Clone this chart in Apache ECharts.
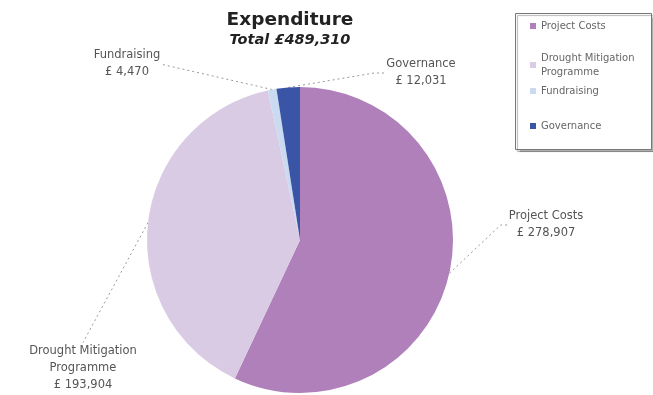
<!DOCTYPE html>
<html><head><meta charset="utf-8">
<script src="https://cdn.jsdelivr.net/npm/echarts@6/dist/echarts.min.js"></script>
<style>html,body{margin:0;padding:0;background:#fff}#c{width:653px;height:395px}</style>
</head><body><div id="c"></div>
<script>
const categories = ['Project Costs', 'Drought Mitigation Programme', 'Fundraising', 'Governance'];
const values = [278907, 193904, 4470, 12031];
const colors = ['#af80b9', '#dacbe5', '#c9daf1', '#3b55a6'];
const titleText = 'Expenditure';
const subText = 'Total £489,310';
const labelNames = ['Project Costs', 'Drought Mitigation\nProgramme', 'Fundraising', 'Governance'];

const chart = echarts.init(document.getElementById('c'));
const fmt = v => v.toLocaleString('en-GB');
const labelPos = [[546, 225], [83, 368], [127, 64], [421, 73]];
const leader2 = [8, 0, 0, 12];
const legendTops = [19, 51, 84, 119];
const font = 'DejaVu Sans';
chart.setOption({
  animation: false,
  title: {
    text: titleText, subtext: subText, left: 285, top: 6, textAlign: 'center', itemGap: 3,
    textStyle: {fontFamily: font, fontWeight: 'bold', fontSize: 18.5, color: '#222'},
    subtextStyle: {fontFamily: font, fontWeight: 'bold', fontStyle: 'italic', fontSize: 14.5, color: '#222'}
  },
  graphic: [{
    type: 'rect', shape: {x: 515.5, y: 13.5, width: 136, height: 136},
    style: {fill: '#fff', stroke: '#777', lineWidth: 1, shadowColor: 'rgba(0,0,0,0.3)', shadowOffsetX: 2, shadowOffsetY: 2, shadowBlur: 1},
    z: -1
  }],
  legend: categories.map((c, i) => ({
    orient: 'vertical', left: 530, top: legendTops[i], padding: 0,
    data: [c],
    formatter: n => n === 'Drought Mitigation Programme' ? 'Drought Mitigation\nProgramme' : n,
    itemWidth: 6, itemHeight: 6, itemGap: 4, icon: 'rect',
    textStyle: {fontFamily: font, fontSize: 10, color: '#666', lineHeight: 14}
  })),
  series: [{
    type: 'pie', center: [300, 240], radius: 153, startAngle: 90, clockwise: true,
    data: categories.map((c, i) => ({name: c, value: values[i], itemStyle: {color: colors[i]},
      label: {formatter: labelNames[i] + '\n£ ' + fmt(values[i])},
      labelLine: {length2: leader2[i]}})),
    label: {show: true, fontFamily: font, fontSize: 11.5, color: '#555', lineHeight: 17, align: 'center'},
    labelLine: {show: true, length: 20, lineStyle: {color: '#999', type: [2, 3], width: 1}},
    labelLayout: p => ({x: labelPos[p.dataIndex][0], y: labelPos[p.dataIndex][1], align: 'center', verticalAlign: 'middle'})
  }]
});
</script></body></html>
